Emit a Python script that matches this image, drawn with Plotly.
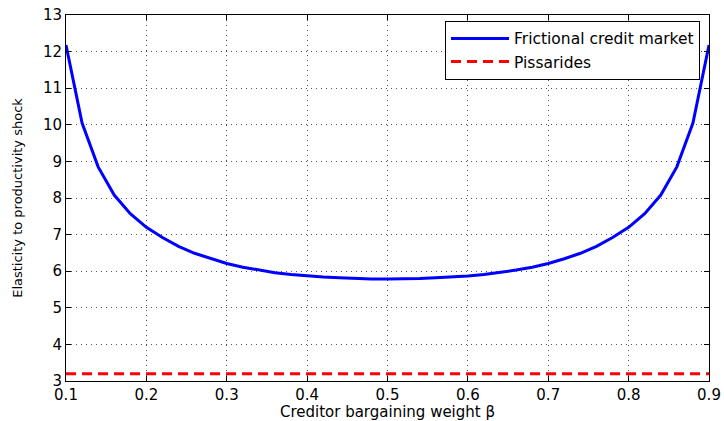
import plotly.graph_objects as go

beta = [0.10, 0.12, 0.14, 0.16, 0.18, 0.20, 0.22, 0.24, 0.26, 0.28, 0.30,
        0.32, 0.34, 0.36, 0.38, 0.40, 0.42, 0.44, 0.46, 0.48, 0.50,
        0.52, 0.54, 0.56, 0.58, 0.60, 0.62, 0.64, 0.66, 0.68, 0.70,
        0.72, 0.74, 0.76, 0.78, 0.80, 0.82, 0.84, 0.86, 0.88, 0.90]
frictional = [12.18, 10.05, 8.85, 8.08, 7.57, 7.20, 6.92, 6.68, 6.49, 6.34, 6.21,
              6.11, 6.03, 5.96, 5.91, 5.87, 5.84, 5.82, 5.80, 5.79, 5.79,
              5.79, 5.80, 5.82, 5.84, 5.87, 5.91, 5.96, 6.03, 6.11, 6.21,
              6.34, 6.49, 6.68, 6.92, 7.20, 7.57, 8.08, 8.85, 10.05, 12.18]
pissarides_x = [0.10, 0.90]
pissarides = [3.2, 3.2]

FONT = "DejaVu Sans, Verdana, sans-serif"

fig = go.Figure()
fig.add_trace(go.Scatter(x=beta, y=frictional, mode="lines",
                         name="Frictional credit market",
                         line=dict(color="#0000ff", width=3)))
fig.add_trace(go.Scatter(x=pissarides_x, y=pissarides, mode="lines",
                         name="Pissarides",
                         line=dict(color="#ff0000", width=3, dash="10px,6px")))

axis_common = dict(showline=True, linecolor="black", linewidth=1, mirror="ticks",
                   ticks="inside", ticklen=5, tickcolor="black",
                   showgrid=True, gridcolor="#555555", griddash="1px,4px", gridwidth=1,
                   zeroline=False, automargin=False,
                   tickfont=dict(family=FONT, size=15, color="black"))

fig.update_xaxes(range=[0.1, 0.9], dtick=0.1, tick0=0.1, tickformat=".1f",
                 title=dict(text="Creditor bargaining weight β",
                            font=dict(family=FONT, size=15, color="black"), standoff=0),
                 **axis_common)
fig.update_yaxes(range=[3, 13], dtick=1,
                 title=dict(text="Elasticity to productivity shock",
                            font=dict(family=FONT, size=13, color="black"), standoff=17),
                 **axis_common)

fig.update_layout(
    width=724, height=421,
    margin=dict(l=66, r=15, t=15, b=40),
    plot_bgcolor="white", paper_bgcolor="white",
    font=dict(family=FONT, color="black"),
    legend=dict(x=0.986, y=0.984, xanchor="right", yanchor="top",
                bgcolor="white", bordercolor="black", borderwidth=1,
                font=dict(family=FONT, size=15.5, color="black"),
                itemwidth=58, tracegroupgap=0),
    showlegend=True,
)

fig.write_html("out.html", config={"displayModeBar": False},
               post_script="document.body.style.margin='0px';")
